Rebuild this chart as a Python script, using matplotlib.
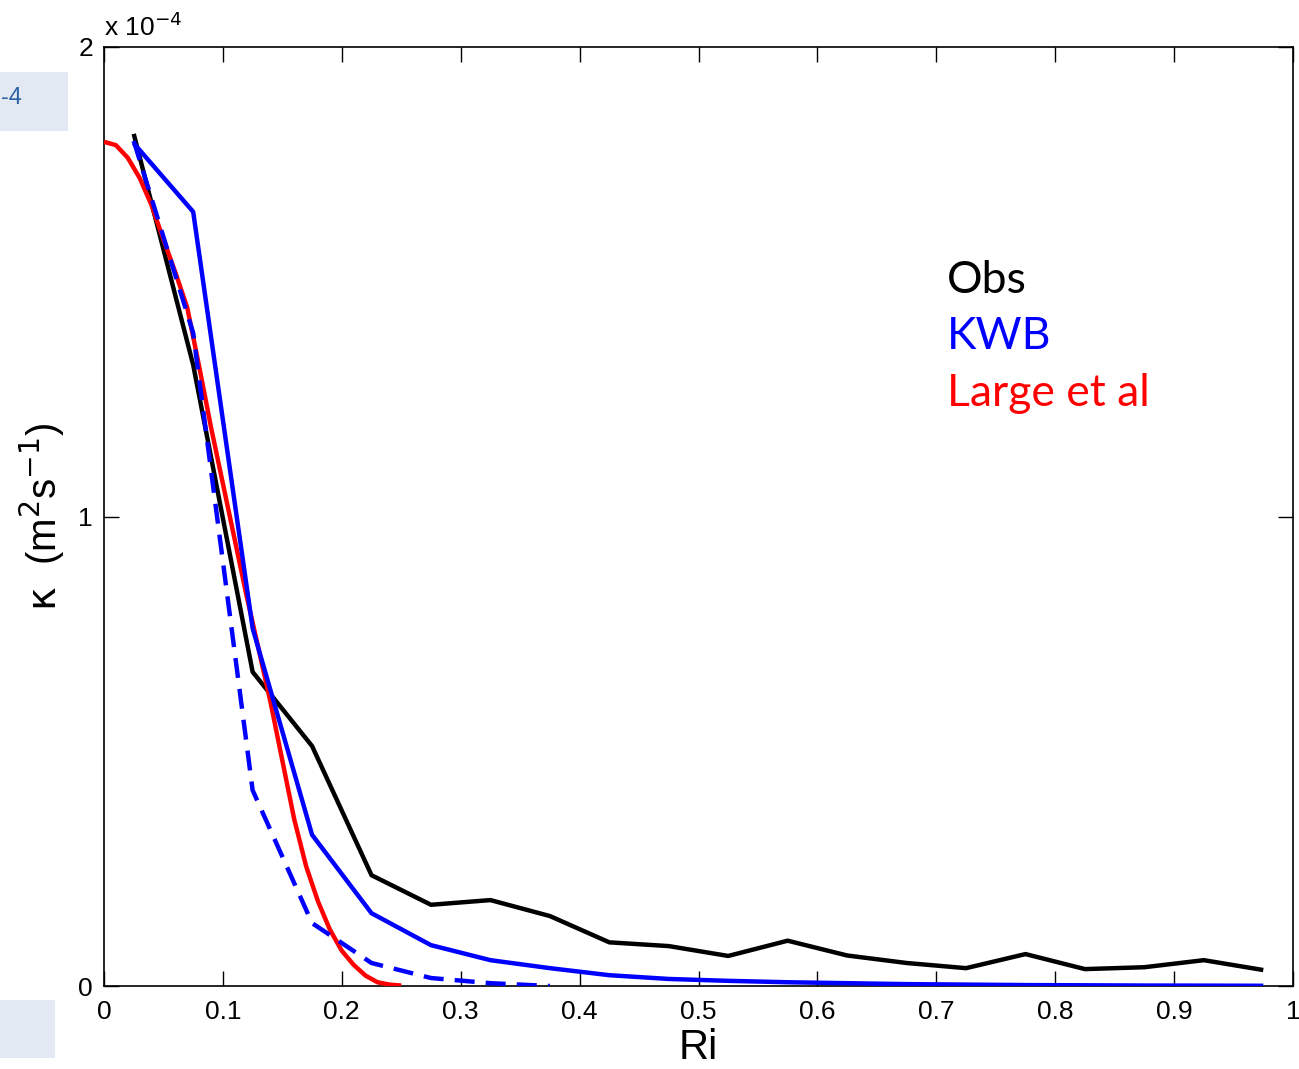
import matplotlib
matplotlib.use("Agg")
import matplotlib.pyplot as plt
from matplotlib.patches import Rectangle
import numpy as np

# ---- data (kappa in units of 1e-4 m^2 s^-1) ----
ri_bins = [0.025, 0.075, 0.125, 0.175, 0.225, 0.275, 0.325, 0.375, 0.425, 0.475,
           0.525, 0.575, 0.625, 0.675, 0.725, 0.775, 0.825, 0.875, 0.925, 0.975]
obs = [1.815, 1.323, 0.669, 0.511, 0.236, 0.173, 0.183, 0.149, 0.093, 0.085,
       0.064, 0.0965, 0.065, 0.049, 0.038, 0.068, 0.036, 0.040, 0.055, 0.034]
kwb = [1.795, 1.649, 0.762, 0.322, 0.155, 0.087, 0.055, 0.038, 0.023, 0.015,
       0.011, 0.008, 0.006, 0.004, 0.003, 0.002, 0.0015, 0.001, 0.0008, 0.0005]
kwb_dash_ri = [0.025, 0.075, 0.125, 0.175, 0.225, 0.275, 0.325, 0.375]
kwb_dash = [1.800, 1.391, 0.417, 0.134, 0.049, 0.017, 0.006, 0.0]
large_ri = [0.00, 0.01, 0.02, 0.03, 0.04, 0.05, 0.06, 0.07, 0.08, 0.09, 0.10, 0.11, 0.12,
            0.13, 0.14, 0.15, 0.16, 0.17, 0.18, 0.19, 0.20, 0.21, 0.22, 0.23, 0.24, 0.25]
large = [1.798, 1.791, 1.764, 1.721, 1.663, 1.590, 1.520, 1.445, 1.320, 1.190, 1.070, 0.950,
         0.830, 0.718, 0.605, 0.480, 0.355, 0.255, 0.180, 0.120, 0.075, 0.045, 0.022,
         0.008, 0.003, 0.001]
x_ticks = [0, 0.1, 0.2, 0.3, 0.4, 0.5, 0.6, 0.7, 0.8, 0.9, 1]
x_tick_labels = ["0", "0.1", "0.2", "0.3", "0.4", "0.5", "0.6", "0.7", "0.8", "0.9", "1"]
y_ticks = [0, 1, 2]
y_tick_labels = ["0", "1", "2"]
legend_labels = ["Obs", "KWB", "Large et al"]
legend_colors = ["black", "#0000ff", "#ff0000"]

plt.rcParams['font.family'] = ['Liberation Sans', 'DejaVu Sans']

fig = plt.figure(figsize=(12.99, 10.69), dpi=100)
ax = fig.add_axes([104/1299, 1 - 986/1069, (1293-104)/1299, (986-47)/1069])

lw = 3.2
ax.plot(large_ri, large, color="#ff0000", lw=lw, solid_capstyle="butt", zorder=3)
ax.plot(kwb_dash_ri, kwb_dash, color="#0000ff", lw=lw, linestyle=(0, (4.5, 2.5)),
        dash_capstyle="butt", zorder=4)
ax.plot(ri_bins, kwb, color="#0000ff", lw=lw, solid_capstyle="butt", zorder=4)
ax.plot(ri_bins, obs, color="black", lw=lw, solid_capstyle="butt", zorder=2)

ax.set_xlim(0, 1)
ax.set_ylim(0, 2)
ax.set_xticks(x_ticks)
ax.set_xticklabels(x_tick_labels)
ax.set_yticks(y_ticks)
ax.set_yticklabels(y_tick_labels)
ax.tick_params(direction="in", length=11, width=1, top=True, right=True,
               labelsize=19, colors="black")
ax.tick_params(axis="x", pad=10)
ax.tick_params(axis="y", pad=8)
for s in ax.spines.values():
    s.set_linewidth(1.2)

ax.set_xlabel("Ri", fontsize=30, labelpad=3)
ax.set_ylabel(r"$\mathrm{\kappa}$  (m$^2$s$^{-1}$)", fontsize=29, labelpad=8)
ax.text(0.0, 1.006, r"x 10$^{-4}$", transform=ax.transAxes, fontsize=19,
        ha="left", va="bottom")

ys = [1.503, 1.383, 1.263]
for lab, col, yv in zip(legend_labels, legend_colors, ys):
    ax.text(0.709, yv, lab, color=col, fontsize=32, family=["Lato", "DejaVu Sans"],
            ha="left", va="center")

# screenshot artifacts at left edge
fig.patches.append(Rectangle((0, 1 - 131/1069), 68/1299, 59/1069, transform=fig.transFigure,
                             facecolor="#e2e9f3", edgecolor="none", zorder=0))
fig.patches.append(Rectangle((0, 1 - 1058/1069), 55/1299, 58/1069, transform=fig.transFigure,
                             facecolor="#e2e9f3", edgecolor="none", zorder=0))
fig.text(1/1299, 1 - 98/1069, "-4", color="#2f62a3", fontsize=17, ha="left", va="center")

fig.savefig("out.png", dpi=100)
